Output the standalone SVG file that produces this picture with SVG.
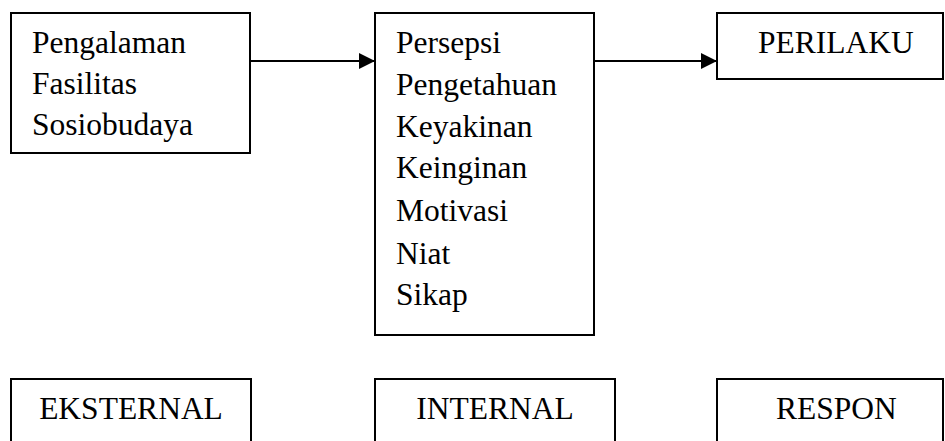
<svg xmlns="http://www.w3.org/2000/svg" width="945" height="441" viewBox="0 0 945 441">
<style>
.box{fill:#fff;stroke:#000;stroke-width:2}
.open{fill:none;stroke:#000;stroke-width:2}
.t{font-family:Liberation Serif, Times New Roman, serif;font-size:31.5px;fill:#000}
.c{text-anchor:middle}
.conn{stroke:#000;stroke-width:2;fill:none}
</style>
<defs>
<marker id="ah" viewBox="0 0 16 16" refX="16" refY="8" markerWidth="16" markerHeight="16" markerUnits="userSpaceOnUse" orient="auto">
<path d="M0,0 L16,8 L0,16 Z" fill="#000"/>
</marker>
</defs>
<rect width="945" height="441" fill="#fff"/>
<g id="eksternal-factors">
<rect class="box" x="11" y="13" width="239" height="140"/>
<text class="t" x="32" y="53">Pengalaman</text>
<text class="t" x="32" y="94">Fasilitas</text>
<text class="t" x="32" y="135">Sosiobudaya</text>
</g>
<g id="internal-factors">
<rect class="box" x="375" y="13" width="219" height="322"/>
<text class="t" x="396" y="53">Persepsi</text>
<text class="t" x="396" y="94.5">Pengetahuan</text>
<text class="t" x="396" y="136.5">Keyakinan</text>
<text class="t" x="396" y="178">Keinginan</text>
<text class="t" x="396" y="221">Motivasi</text>
<text class="t" x="396" y="264">Niat</text>
<text class="t" x="396" y="305">Sikap</text>
</g>
<g id="perilaku">
<rect class="box" x="717" y="13" width="226" height="66"/>
<text class="t" x="758" y="53">PERILAKU</text>
</g>
<g id="label-eksternal">
<path class="open" d="M11,445 V379 H251 V445"/>
<text class="t c" x="131" y="419">EKSTERNAL</text>
</g>
<g id="label-internal">
<path class="open" d="M375,445 V379 H615 V445"/>
<text class="t c" x="495" y="419">INTERNAL</text>
</g>
<g id="label-respon">
<path class="open" d="M717,445 V379 H943 V445"/>
<text class="t" x="776" y="419">RESPON</text>
</g>
<g id="connectors">
<line class="conn" x1="250" y1="61" x2="375" y2="61" marker-end="url(#ah)"/>
<line class="conn" x1="594" y1="61" x2="717" y2="61" marker-end="url(#ah)"/>
</g>
</svg>
